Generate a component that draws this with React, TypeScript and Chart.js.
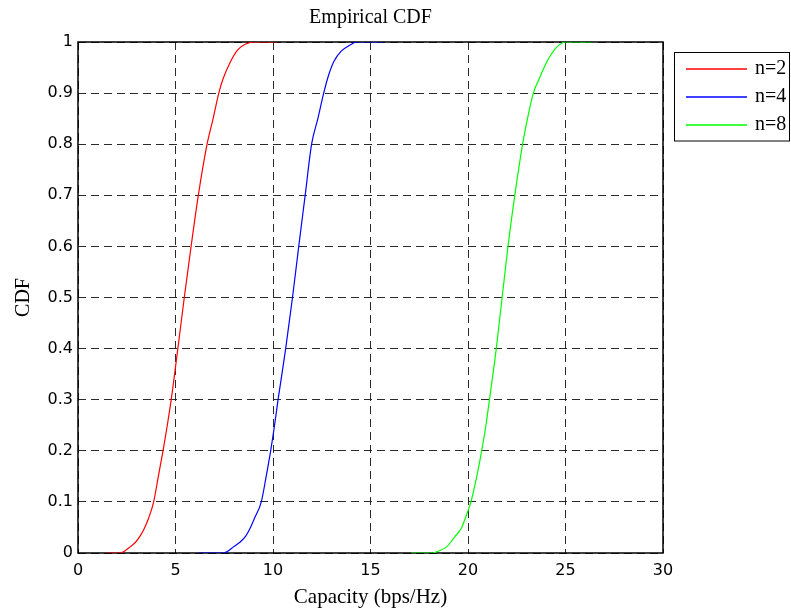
import React, { useEffect, useRef } from 'react';
import { Chart, registerables } from 'chart.js';

Chart.register(...registerables);

const titleText = 'Empirical CDF';
const xAxisTitle = 'Capacity (bps/Hz)';
const yAxisTitle = 'CDF';
const xTickLabels = ['0', '5', '10', '15', '20', '25', '30'];
const yTickLabels = ['0', '0.1', '0.2', '0.3', '0.4', '0.5', '0.6', '0.7', '0.8', '0.9', '1'];

const seriesLabels = ['n=2', 'n=4', 'n=8'];
const seriesColors = ['#ff0000', '#0000ff', '#00ff00'];

const n2Capacity = [1.44, 2.15, 2.4, 2.67, 2.95, 3.18, 3.4, 3.62, 3.88, 4.12, 4.36, 4.58, 4.78, 5.12, 5.45, 5.8, 6.17, 6.62, 6.93, 7.22, 7.44, 7.8, 8.2, 8.6, 9.08, 10.2];
const n2Cdf = [0, 0, 0.004, 0.012, 0.021, 0.033, 0.048, 0.068, 0.1, 0.15, 0.2, 0.25, 0.3, 0.4, 0.5, 0.6, 0.7, 0.8, 0.85, 0.9, 0.928, 0.96, 0.985, 0.996, 1, 1];

const n4Capacity = [6.2, 7.45, 7.7, 7.97, 8.3, 8.6, 8.82, 9.05, 9.4, 9.65, 9.88, 10.08, 10.26, 10.65, 11.0, 11.32, 11.65, 11.98, 12.3, 12.6, 12.85, 13.12, 13.5, 13.95, 14.3, 15.6];
const n4Cdf = [0, 0, 0.004, 0.012, 0.021, 0.033, 0.048, 0.068, 0.1, 0.15, 0.2, 0.25, 0.3, 0.4, 0.5, 0.6, 0.7, 0.8, 0.85, 0.9, 0.935, 0.962, 0.982, 0.994, 1, 1];

const n8Capacity = [17.1, 18.2, 18.5, 18.9, 19.33, 19.68, 19.88, 20.15, 20.45, 20.7, 20.92, 21.1, 21.45, 21.75, 22.05, 22.4, 22.8, 23.05, 23.35, 23.65, 24.0, 24.3, 24.6, 25.0, 26.4];
const n8Cdf = [0, 0, 0.004, 0.012, 0.032, 0.05, 0.07, 0.1, 0.15, 0.2, 0.25, 0.3, 0.4, 0.5, 0.6, 0.7, 0.8, 0.85, 0.9, 0.928, 0.958, 0.978, 0.992, 1, 1];

const seriesX = [n2Capacity, n4Capacity, n8Capacity];
const seriesY = [n2Cdf, n4Cdf, n8Cdf];

const SERIF = '"Liberation Serif", "Times New Roman", serif';
const SANS = '"DejaVu Sans", sans-serif';

const framePlugin = {
  id: 'matlabFrame',
  beforeDatasetsDraw(chart: any) {
    const { ctx, chartArea } = chart;
    const { left, top, right, bottom } = chartArea;
    ctx.save();
    ctx.strokeStyle = '#000000';
    ctx.lineWidth = 1.5;
    ctx.setLineDash([]);
    ctx.strokeRect(left, top, right - left, bottom - top);
    ctx.restore();
  },
  afterDraw(chart: any) {
    const { ctx, chartArea } = chart;
    const { left, right } = chartArea;
    ctx.save();
    ctx.setLineDash([]);
    // title
    ctx.fillStyle = '#000000';
    ctx.font = `20px ${SERIF}`;
    ctx.textAlign = 'center';
    ctx.textBaseline = 'middle';
    ctx.fillText(titleText, (left + right) / 2, 18);

    // legend
    const boxLeft = 674;
    const boxTop = 52;
    const boxRight = 789;
    const rowStart = 68.5;
    const rowGap = 28;
    const boxBottom = rowStart + rowGap * (seriesLabels.length - 1) + 16;
    ctx.fillStyle = '#ffffff';
    ctx.fillRect(boxLeft, boxTop, boxRight - boxLeft, boxBottom - boxTop);
    ctx.strokeStyle = '#000000';
    ctx.lineWidth = 1;
    ctx.strokeRect(boxLeft + 0.5, boxTop + 0.5, boxRight - boxLeft, boxBottom - boxTop);
    seriesLabels.forEach((label, i) => {
      const y = Math.round(rowStart + rowGap * i);
      ctx.strokeStyle = seriesColors[i];
      ctx.lineWidth = 1.5;
      ctx.beginPath();
      ctx.moveTo(686, y);
      ctx.lineTo(747, y);
      ctx.stroke();
      ctx.fillStyle = '#000000';
      ctx.font = `20px ${SERIF}`;
      ctx.textAlign = 'left';
      ctx.textBaseline = 'middle';
      ctx.fillText(label, 755, y);
    });
    ctx.restore();
  },
};

export default function App() {
  const canvasRef = useRef<HTMLCanvasElement | null>(null);

  useEffect(() => {
    const canvas = canvasRef.current;
    if (!canvas) return;
    const datasets = seriesLabels.map((label, i) => ({
      label,
      data: seriesX[i].map((x, j) => ({ x, y: seriesY[i][j] })),
      borderColor: seriesColors[i],
      backgroundColor: seriesColors[i],
      borderWidth: 1.2,
      pointRadius: 0,
      fill: false,
      cubicInterpolationMode: 'monotone' as const,
    }));

    const chart = new Chart(canvas, {
      type: 'line',
      data: { datasets },
      plugins: [framePlugin],
      options: {
        responsive: false,
        animation: false,
        devicePixelRatio: 1,
        layout: { padding: { left: 0, right: 128, top: 42, bottom: 0 } },
        plugins: {
          legend: { display: false },
          title: { display: false },
          tooltip: { enabled: false },
        },
        scales: {
          x: {
            type: 'linear',
            min: 0,
            max: 30,
            afterFit: (scale: any) => {
              scale.height = 58;
            },
            ticks: {
              stepSize: 5,
              autoSkip: false,
              maxRotation: 0,
              padding: 8,
              color: '#000000',
              font: { family: SANS, size: 16 },
              callback: (v: any) => xTickLabels[Math.round(Number(v) / 5)],
            },
            grid: { color: '#2a2a2a', lineWidth: 1, drawTicks: false },
            border: { display: false, dash: [8, 5] },
            title: {
              display: true,
              text: xAxisTitle,
              color: '#000000',
              font: { family: SERIF, size: 21 },
              padding: { top: 0, bottom: 1 },
            },
          },
          y: {
            type: 'linear',
            min: 0,
            max: 1,
            afterFit: (scale: any) => {
              scale.width = 78;
            },
            ticks: {
              stepSize: 0.1,
              autoSkip: false,
              padding: 5,
              color: '#000000',
              font: { family: SANS, size: 16 },
              callback: (v: any) => yTickLabels[Math.round(Number(v) * 10)],
            },
            grid: { color: '#2a2a2a', lineWidth: 1, drawTicks: false },
            border: { display: false, dash: [8, 5] },
            title: {
              display: true,
              text: yAxisTitle,
              color: '#000000',
              font: { family: SERIF, size: 20 },
              padding: { top: 12, bottom: 0 },
            },
          },
        },
      },
    });
    return () => chart.destroy();
  }, []);

  return (
    <div style={{ position: 'absolute', left: 0, top: 0, width: 791, height: 611, background: '#ffffff' }}>
      <canvas ref={canvasRef} width={791} height={611} style={{ display: 'block', width: 791, height: 611 }} />
    </div>
  );
}
